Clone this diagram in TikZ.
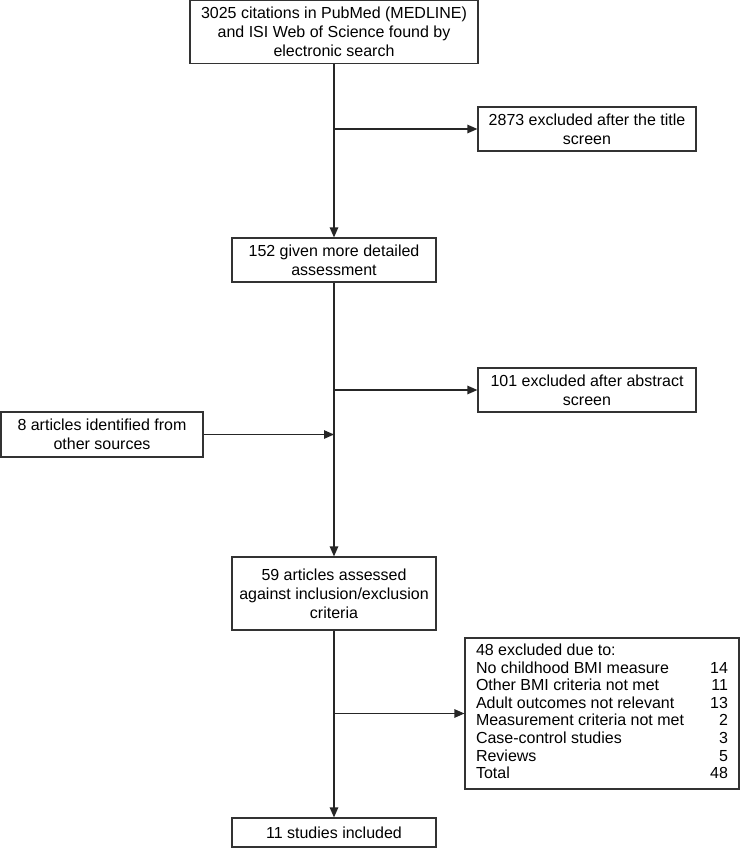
\documentclass[tikz,border=0pt]{standalone}
\usepackage{fontspec}
\setmainfont{Liberation Sans}
\usetikzlibrary{arrows.meta}

\begin{document}
\begin{tikzpicture}[x=1pt,y=-1pt,
	box/.style={draw=black!80,line width=1.2pt,align=center,inner sep=0pt,
		font=\fontsize{16}{19}\selectfont},
	arr/.style={draw=black!85,line width=1.2pt,-{Triangle[length=10pt,width=8.5pt]}}]
	\useasboundingbox (0,0) rectangle (740,848);
	% main column
	\node[box,minimum width=288pt,minimum height=63pt] (search) at (334,32)
		{3025 citations in PubMed (MEDLINE)\\and ISI Web of Science found by\\electronic search};
	\node[box,minimum width=204pt,minimum height=44pt] (assess) at (334,260)
		{152 given more detailed\\assessment};
	\node[box,minimum width=204pt,minimum height=73pt] (fulltext) at (334,593.5)
		{59 articles assessed\\against inclusion/exclusion\\criteria};
	\node[box,minimum width=204pt,minimum height=29pt] (included) at (334,832.5)
		{11 studies included};
	% side boxes
	\node[box,minimum width=218pt,minimum height=44pt] (titleout) at (587,129)
		{2873 excluded after the title\\screen};
	\node[box,minimum width=218pt,minimum height=44pt] (abstractout) at (587,390)
		{101 excluded after abstract\\screen};
	\node[box,minimum width=202pt,minimum height=45pt] (othersrc) at (102,434.5)
		{8 articles identified from\\other sources};
	\node[box,align=left,minimum width=274pt,minimum height=151pt,
		font=\fontsize{16}{17.6}\selectfont] (criteriaout) at (602,713.5)
		{\begin{tabular*}{252pt}{@{}l@{\extracolsep{\fill}}r@{}}
			48 excluded due to: & \\
			No childhood BMI measure & 14\\
			Other BMI criteria not met & 11\\
			Adult outcomes not relevant & 13\\
			Measurement criteria not met & 2\\
			Case-control studies & 3\\
			Reviews & 5\\
			Total & 48
		\end{tabular*}};
	% arrows
	\draw[arr] (search.south) -- (assess.north);
	\draw[arr] (search.south |- titleout.west) -- (titleout.west);
	\draw[arr] (assess.south) -- (fulltext.north);
	\draw[arr] (assess.south |- abstractout.west) -- (abstractout.west);
	\draw[arr] (othersrc.east) -- (assess.south |- othersrc.east);
	\draw[arr] (fulltext.south) -- (included.north);
	\draw[arr] (fulltext.south |- criteriaout.west) -- (criteriaout.west);
\end{tikzpicture}
\end{document}
